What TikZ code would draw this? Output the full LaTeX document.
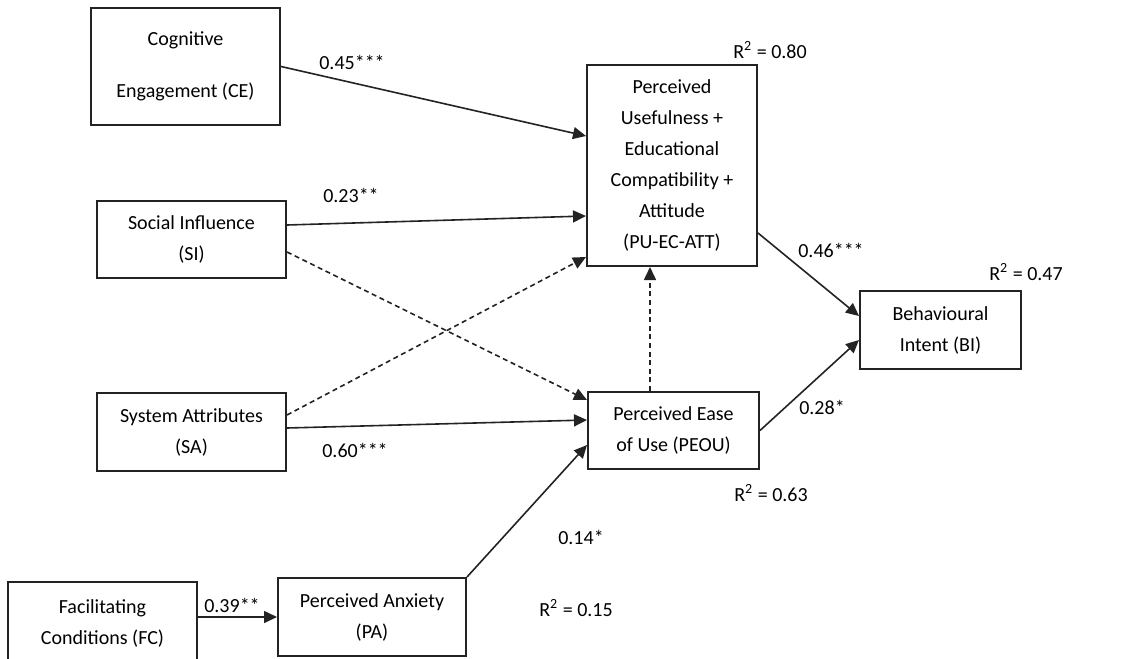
\documentclass[tikz,border=0pt]{standalone}
\usepackage{fontspec}
\setmainfont{Carlito}
\usetikzlibrary{arrows.meta}
\definecolor{tamedge}{RGB}{35,35,35}
\tikzset{
  tambox/.style={
    draw=tamedge, line width=1pt, align=center, inner sep=2pt,
    font=\fontsize{10}{15.5}\selectfont
  },
  arr/.style={-{Triangle[length=6.5pt,width=6pt]}, draw=tamedge, line width=0.8pt},
  darr/.style={arr, dash pattern=on 2.5pt off 1.8pt},
  coef/.style={font=\fontsize{10}{12}\selectfont, inner sep=0pt},
  every picture/.append style={line join=miter}
}
\begin{document}
\begin{tikzpicture}[x=0.5pt, y=-0.5pt]
  \useasboundingbox (0,0) rectangle (1126,659);
  \node[tambox, minimum width=94.5pt, minimum height=58.5pt, font=\fontsize{10}{26}\selectfont] (ce) at (185.5,66.5) {Cognitive\\Engagement (CE)};
  \node[tambox, minimum width=94.5pt, minimum height=38.5pt] (si) at (191.5,239.5) {Social Influence\\(SI)};
  \node[tambox, minimum width=94.5pt, minimum height=39pt] (sa) at (191.5,432) {System Attributes\\(SA)};
  \node[tambox, minimum width=94.5pt, minimum height=41pt] (fc) at (102.5,623) {Facilitating\\Conditions (FC)};
  \node[tambox, minimum width=94pt, minimum height=39pt] (pa) at (372,617) {Perceived Anxiety\\(PA)};
  \node[tambox, minimum width=85pt, minimum height=100.5pt] (pu) at (672,165.5) {Perceived\\Usefulness +\\Educational\\Compatibility +\\Attitude\\(PU-EC-ATT)};
  \node[tambox, minimum width=80.5pt, minimum height=39pt] (bi) at (940.5,330) {Behavioural\\Intent (BI)};
  \node[tambox, minimum width=85.5pt, minimum height=38.5pt] (peou) at (673.5,430.5) {Perceived Ease\\of Use (PEOU)};

  \draw[arr] (ce.east) -- ([yshift=14.75pt]pu.west);
  \draw[arr] ([yshift=7.25pt]si.east) -- ([yshift=-25.25pt]pu.west);
  \draw[darr] ([yshift=-6.25pt]si.east) -- ([yshift=15.25pt]peou.west);
  \draw[darr] ([yshift=8.5pt]sa.east) -- ([yshift=-45.75pt]pu.west);
  \draw[arr] ([yshift=2pt]sa.east) -- ([yshift=5.25pt]peou.west);
  \draw[arr] (pa.north east) -- ([yshift=-7.25pt]peou.west);
  \draw[arr] (fc.east |- pa.west) -- (pa.west);
  \draw[darr] ([xshift=-11.75pt]peou.north) -- ([xshift=-11pt]pu.south);
  \draw[arr] ([yshift=-33.75pt]pu.east) -- ([yshift=7pt]bi.west);
  \draw[arr] (peou.east) -- ([yshift=-5pt]bi.west);

  \node[coef] (bce) at (352,62) {0.45***};
  \node[coef] (bsi) at (351,195) {0.23**};
  \node[coef] (bsa) at (355,450) {0.60***};
  \node[coef] (bfc) at (232,605) {0.39**};
  \node[coef] (bpa) at (581,537) {0.14*};
  \node[coef] (bpu) at (831,250) {0.46***};
  \node[coef] (bpe) at (822,407) {0.28*};
  \node[coef] (rpu) at (770,50) {R\textsuperscript{2} = 0.80};
  \node[coef] (rbi) at (1026,272) {R\textsuperscript{2} = 0.47};
  \node[coef] (rpe) at (771,493) {R\textsuperscript{2} = 0.63};
  \node[coef] (rpa) at (576,608) {R\textsuperscript{2} = 0.15};
\end{tikzpicture}
\end{document}
